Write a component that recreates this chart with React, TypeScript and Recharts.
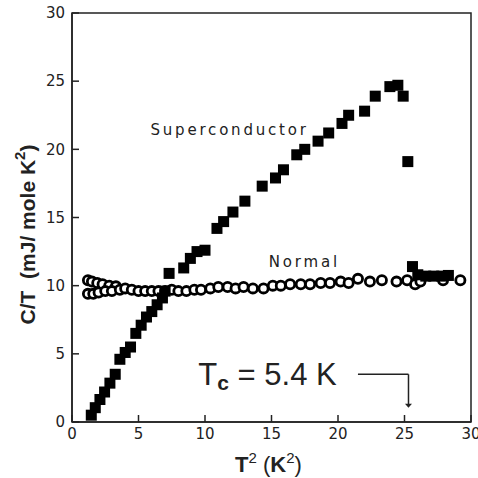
import {
  ReferenceArea,
  ReferenceDot,
  ReferenceLine,
  Scatter,
  ScatterChart,
  XAxis,
  YAxis,
} from "recharts";

// T^2 (K^2) vs C/T (mJ / mole K^2)
const superX = [
  1.45, 1.75, 2.1, 2.45, 2.85, 3.25, 3.6, 4.0, 4.4, 4.8, 5.2, 5.6, 6.0, 6.4, 6.8, 7.0,
  7.3, 8.4, 8.9, 9.4, 10.0, 10.9, 11.4, 12.1, 13.0, 14.3, 15.3, 15.9, 16.9, 17.5, 18.5,
  19.3, 20.3, 20.8, 22.0, 22.8, 23.9, 24.5, 24.9, 25.25, 25.6, 26.0, 26.6, 27.2, 27.8, 28.3,
];
const superY = [
  0.5, 1.05, 1.65, 2.2, 2.85, 3.5, 4.6, 5.1, 5.5, 6.5, 7.1, 7.7, 8.1, 8.6, 9.1, 9.6,
  10.9, 11.3, 12.0, 12.5, 12.6, 14.2, 14.7, 15.4, 16.2, 17.3, 17.9, 18.5, 19.6, 20.0, 20.6,
  21.2, 21.9, 22.5, 22.8, 23.9, 24.6, 24.7, 23.9, 19.1, 11.4, 10.8, 10.7, 10.7, 10.7, 10.75,
];

const normalX = [
  1.2, 1.5, 1.9, 2.3, 2.8, 3.3, 1.2, 1.6, 2.0, 2.5, 3.0, 3.6, 4.0, 4.5, 5.0, 5.5, 6.0,
  6.5, 7.0, 7.5, 8.0, 8.6, 9.2, 9.7, 10.4, 11.0, 11.7, 12.3, 12.9, 13.6, 14.4, 15.1,
  15.7, 16.4, 17.2, 17.9, 18.7, 19.4, 20.2, 20.8, 21.5, 22.4, 23.3, 24.4, 25.2, 25.8,
  26.2, 27.9, 29.2,
];
const normalY = [
  10.4, 10.3, 10.2, 10.1, 10.0, 9.95, 9.4, 9.4, 9.5, 9.6, 9.6, 9.7, 9.8, 9.7, 9.6, 9.6,
  9.6, 9.6, 9.6, 9.7, 9.6, 9.6, 9.7, 9.7, 9.8, 9.9, 9.9, 9.8, 9.9, 9.8, 9.8, 10.0,
  10.0, 10.1, 10.1, 10.1, 10.2, 10.2, 10.3, 10.2, 10.5, 10.3, 10.4, 10.3, 10.4, 10.1,
  10.3, 10.4, 10.4,
];

const xTicks = [0, 5, 10, 15, 20, 25, 30];
const yTicks = [0, 5, 10, 15, 20, 25, 30];

const superData = superX.map((x, i) => ({ x, y: superY[i] }));
const normalData = normalX.map((x, i) => ({ x, y: normalY[i] }));

const INK = "#222";
const TICK = { fontSize: 15, fill: INK, fontFamily: "DejaVu Sans" } as const;
const NOTE = { fontSize: 15, fill: INK, fontFamily: "DejaVu Sans", letterSpacing: 2.8 } as const;

const Square = (p: any) => (
  <rect x={p.cx - 5.5} y={p.cy - 5.5} width={11} height={11} fill="#000" />
);
const Ring = (p: any) => (
  <circle cx={p.cx} cy={p.cy} r={4.6} fill="#fff" stroke="#000" strokeWidth={2.8} />
);

function YLabel({ viewBox }: any) {
  const cx = viewBox.x + 15;
  const cy = viewBox.y + viewBox.height / 2 + 17;
  return (
    <text
      x={cx}
      y={cy}
      transform={`rotate(-90 ${cx} ${cy})`}
      textAnchor="middle"
      dominantBaseline="central"
      fontFamily="Liberation Sans"
      fontWeight="bold"
      fontSize={21}
      fill={INK}
      style={{ whiteSpace: "pre" }}
    >
      C/T  (mJ/ mole K<tspan fontSize={15} dy={-8}>2</tspan>
      <tspan dy={8}>)</tspan>
    </text>
  );
}

function XLabel({ viewBox }: any) {
  const cx = viewBox.x + viewBox.width / 2 - 3;
  return (
    <text
      x={cx}
      y={472}
      textAnchor="middle"
      fontFamily="Liberation Sans"
      fontSize={22}
      fill={INK}
    >
      <tspan fontWeight="bold">T</tspan>
      <tspan fontSize={15} dy={-9}>2</tspan>
      <tspan dy={9}> (</tspan>
      <tspan fontWeight="bold">K</tspan>
      <tspan fontSize={15} dy={-9}>2</tspan>
      <tspan dy={9}>)</tspan>
    </text>
  );
}

export default function App() {
  return (
    <div style={{ position: "absolute", left: 0, top: 0, background: "#fff" }}>
      <ScatterChart width={478} height={478} margin={{ top: 13, right: 7, bottom: 26, left: 12 }}>
        <XAxis
          type="number"
          dataKey="x"
          domain={[0, 30]}
          ticks={xTicks}
          interval={0}
          height={30}
          tick={TICK}
          tickSize={-7}
          tickMargin={13}
          stroke={INK}
          strokeWidth={1.5}
          allowDataOverflow
          label={{ content: XLabel }}
        />
        <YAxis
          type="number"
          dataKey="y"
          domain={[0, 30]}
          ticks={yTicks}
          interval={0}
          width={60}
          tick={TICK}
          tickSize={-7}
          tickMargin={14}
          stroke={INK}
          strokeWidth={1.5}
          allowDataOverflow
          label={{ content: YLabel }}
        />
        <ReferenceArea x1={0} x2={30} y1={0} y2={30} fill="none" stroke={INK} strokeWidth={1.5} />
        <Scatter data={normalData} shape={Ring} isAnimationActive={false} />
        <Scatter data={superData} shape={Square} isAnimationActive={false} />
        <ReferenceDot
          x={5.9}
          y={21.4}
          r={0}
          shape={(p: any) => (
            <text x={p.cx} y={p.cy} dominantBaseline="central" {...NOTE}>
              Superconductor
            </text>
          )}
        />
        <ReferenceDot
          x={14.8}
          y={11.75}
          r={0}
          shape={(p: any) => (
            <text x={p.cx} y={p.cy} dominantBaseline="central" {...NOTE}>
              Normal
            </text>
          )}
        />
        <ReferenceDot
          x={9.5}
          y={2.75}
          r={0}
          shape={(p: any) => (
            <text x={p.cx} y={p.cy} fontFamily="Liberation Sans" fontSize={31} fill={INK}>
              T
              <tspan fontSize={21} fontWeight="bold" dy={5}>c</tspan>
              <tspan dy={-5}> = 5.4 K</tspan>
            </text>
          )}
        />
        <ReferenceLine
          segment={[
            { x: 21.5, y: 3.5 },
            { x: 25.3, y: 3.5 },
          ]}
          stroke={INK}
          strokeWidth={1.5}
        />
        <ReferenceLine
          segment={[
            { x: 25.3, y: 3.5 },
            { x: 25.3, y: 1.3 },
          ]}
          stroke={INK}
          strokeWidth={1.5}
        />
        <ReferenceDot
          x={25.3}
          y={1.05}
          r={0}
          shape={(p: any) => (
            <path
              d={`M${p.cx - 3.5},${p.cy - 4} L${p.cx + 3.5},${p.cy - 4} L${p.cx},${p.cy} Z`}
              fill={INK}
            />
          )}
        />
      </ScatterChart>
    </div>
  );
}
